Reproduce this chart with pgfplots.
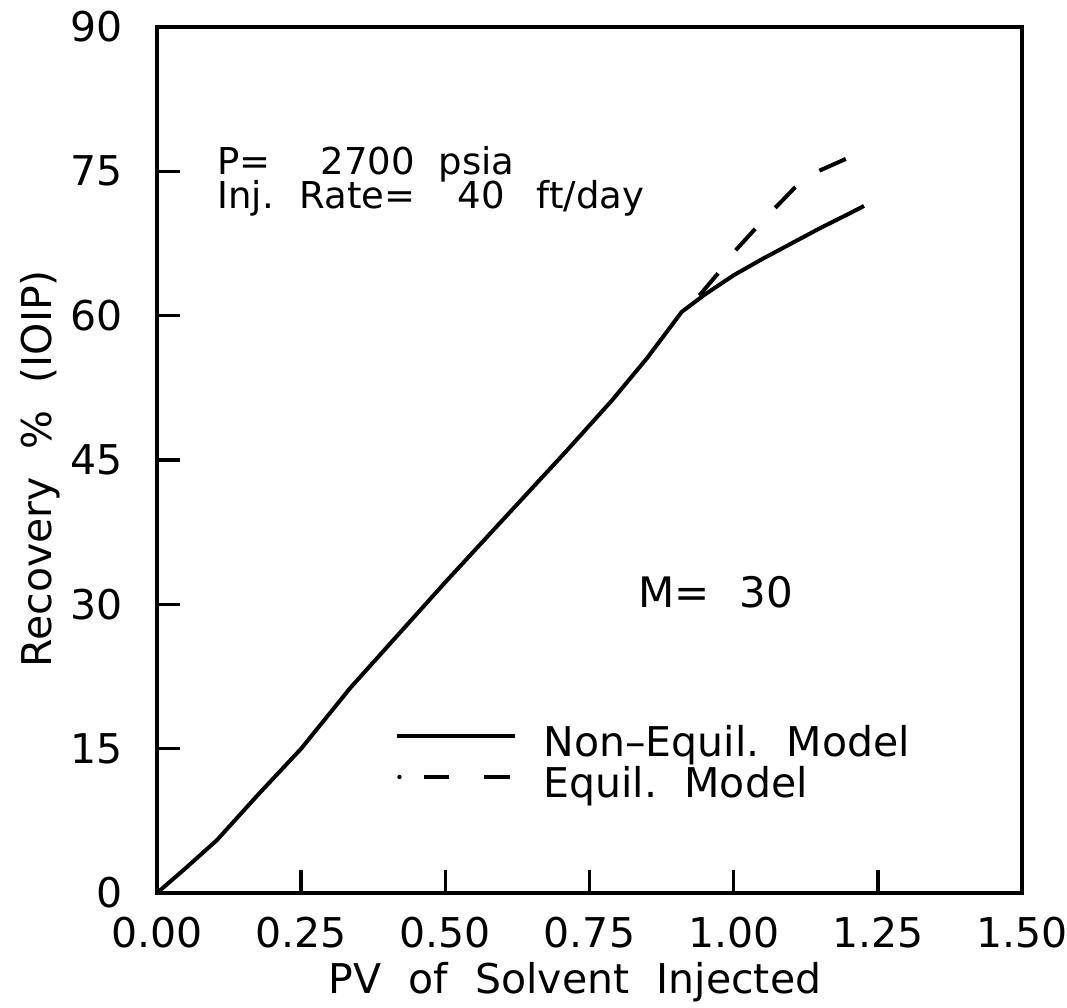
\documentclass[border=0pt]{standalone}
\usepackage{pgfplots}
\pgfplotsset{compat=1.18}
\usepackage{fontspec}
\setmainfont{DejaVu Sans}[WordSpace=2.1]

\newcommand{\lblfont}{\fontsize{20.5}{24}\selectfont}
\newcommand{\notefont}{\fontsize{18.5}{21}\selectfont}

\begin{document}
\begin{tikzpicture}
\useasboundingbox (-78.5pt,-57.5pt) rectangle (455pt,446.5pt);
\begin{axis}[
  scale only axis,
  width=432.5pt, height=433pt,
  xmin=0, xmax=1.5, ymin=0, ymax=90,
  xtick={0,0.25,0.5,0.75,1,1.25,1.5},
  xticklabels={0.00,0.25,0.50,0.75,1.00,1.25,1.50},
  ytick={0,15,30,45,60,75,90},
  tick pos=left,
  tick align=inside,
  major tick length=11.5pt,
  every tick/.style={black, line width=1.8pt},
  axis line style={black, line width=2pt},
  /pgf/number format/assume math mode=true,
  tick label style={font=\lblfont},
  x tick label style={anchor=base, inner sep=0pt, yshift=-27pt},
  y tick label style={anchor=east, inner sep=0pt, xshift=-17pt},
  xlabel={PV of Solvent Injected},
  ylabel={Recovery \% (IOIP)},
  xlabel style={font=\lblfont, at={(axis description cs:0.483,-0.1155)}, anchor=base},
  ylabel style={font=\lblfont, at={(axis description cs:-0.135,0.49)}, anchor=center},
  legend style={draw=none, fill=none, inner sep=0pt,
    at={(axis description cs:0.275,0.194)}, anchor=north west,
    font=\lblfont, nodes={inner sep=0pt}, column sep=13pt, row sep=3.5pt},
  legend cell align=left,
]
% non-equilibrium model
\addplot[black, line width=2pt, line join=round,
  legend image code/.code={\draw[black, solid, line width=2pt] (0pt,0.33em) -- (59pt,0.33em);}]
  coordinates {
  (0,0) (0.05,2.6) (0.104,5.5) (0.175,10.2) (0.25,15.0) (0.335,21.3)
  (0.5,32.3) (0.6,38.8) (0.711,46.0) (0.789,51.2) (0.85,55.6) (0.91,60.4)
  (0.95,62.2) (1.0,64.2) (1.05,65.9) (1.1,67.5) (1.15,69.1) (1.2,70.6) (1.226,71.4)
  };
\addlegendentry{Non\textendash Equil.\ Model}
% equilibrium model
\addplot[black, line width=2pt, dash pattern=on 14.5pt off 14.5pt, dash phase=17pt,
  legend image code/.code={
    \fill[black] (1pt,0.33em) circle (1.1pt);
    \draw[black, solid, line width=2pt] (13.5pt,0.33em) -- (26pt,0.33em);
    \draw[black, solid, line width=2pt] (43.5pt,0.33em) -- (56.5pt,0.33em);}]
  coordinates {
  (0.91,60.4) (0.942,62.2) (0.973,64.4) (1.002,66.7) (1.037,69.0)
  (1.072,71.2) (1.106,73.3) (1.146,75.0) (1.195,76.3)
  };
\addlegendentry{Equil.\ Model}

\node[anchor=base west, inner sep=0pt] at (axis cs:0.104,74.7)
  {\notefont P=\hspace{25pt}2700\hspace{12pt}psia};
\node[anchor=base west, inner sep=0pt] at (axis cs:0.104,71.1)
  {\notefont Inj.\hspace{13pt}Rate=\hspace{21pt}40\hspace{16pt}ft/day};
\node[anchor=base west, inner sep=0pt] at (axis cs:0.834,29.7)
  {\fontsize{21}{24}\selectfont M=\hspace{15pt}30};
\end{axis}
\end{tikzpicture}
\end{document}
